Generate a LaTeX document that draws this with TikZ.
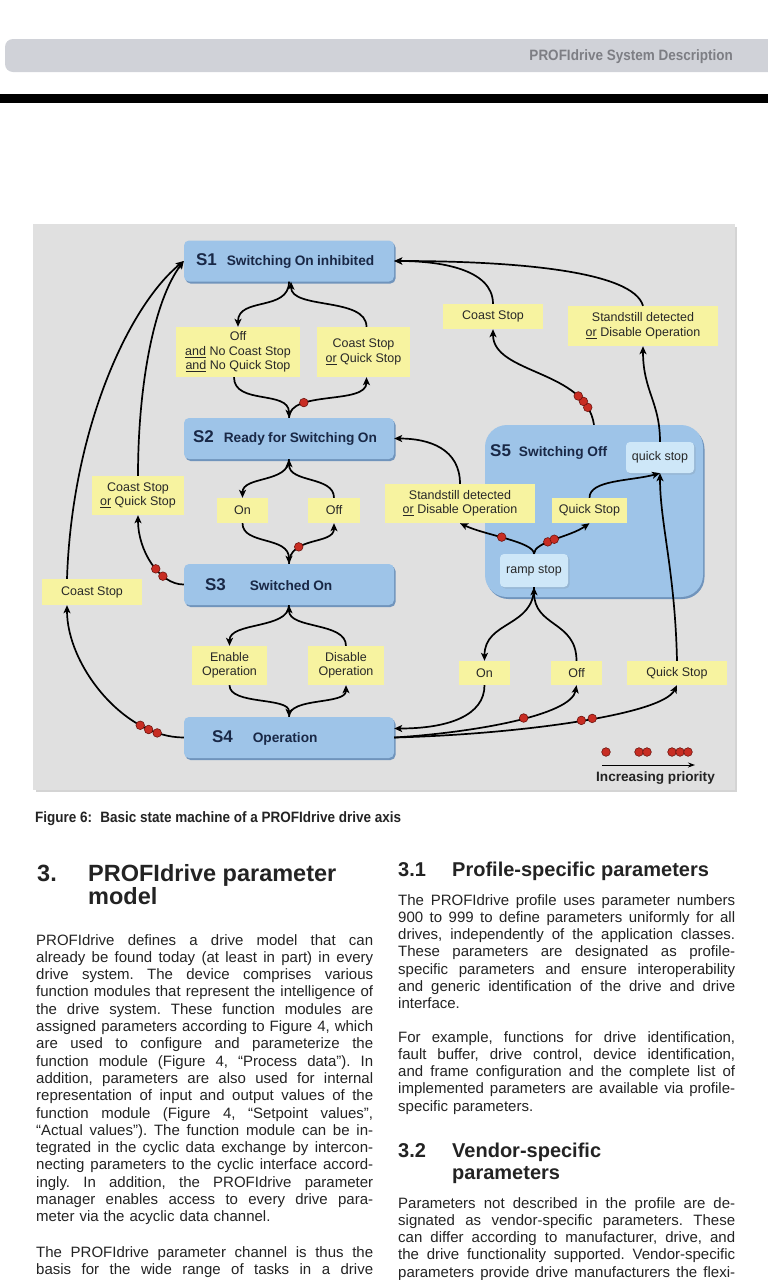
\documentclass[tikz,border=0pt]{standalone}
\usepackage{fontspec}
\setmainfont{Liberation Sans}
\usetikzlibrary{arrows.meta,shadows}
\definecolor{stateblue}{RGB}{158,196,232}
\definecolor{shadowblue}{RGB}{112,148,188}
\definecolor{subblue}{RGB}{206,231,248}
\definecolor{subshadow}{RGB}{150,182,212}
\definecolor{labyellow}{RGB}{247,243,160}
\definecolor{panelgrey}{RGB}{224,224,224}
\definecolor{panelshadow}{RGB}{212,212,212}
\definecolor{hdrgrey}{RGB}{208,210,216}
\definecolor{hdrtext}{RGB}{125,126,132}
\definecolor{dotred}{RGB}{200,45,35}
\definecolor{dotedge}{RGB}{110,20,15}
\definecolor{statetext}{RGB}{25,40,70}
\definecolor{labtext}{RGB}{40,40,40}
\definecolor{bodytext}{RGB}{35,35,35}
\newcommand\jl[1]{\makebox[337pt][s]{\frenchspacing\spaceskip=0.278em plus 1em minus 0.03em\relax #1}\\}
\newcommand\jlast[1]{\makebox[337pt][s]{\frenchspacing\spaceskip=0.278em plus 1em minus 0.03em\relax #1}}
\begin{document}
\begin{tikzpicture}[x=1pt,y=-1pt,
  state/.style={fill=stateblue, rounded corners=5pt, minimum width=210pt, minimum height=41pt,
    inner sep=0pt, text width=210pt, align=left, text=statetext,
    drop shadow={shadow xshift=1.5pt, shadow yshift=-2pt, fill=shadowblue, opacity=1}},
  substate/.style={fill=subblue, rounded corners=4pt, inner sep=0pt, text=labtext,
    font=\fontsize{12.5}{14.5}\selectfont,
    drop shadow={shadow xshift=1.5pt, shadow yshift=-1.5pt, fill=subshadow, opacity=1}},
  lab/.style={fill=labyellow, inner sep=0pt, align=center, text=labtext,
    font=\fontsize{12.5}{14.5}\selectfont},
  conn/.style={line width=1.7pt, -{Stealth[length=8pt,width=7pt,inset=2pt]}},
  dot/.style={circle, fill=dotred, draw=dotedge, line width=0.6pt, inner sep=0pt, minimum size=8.6pt},
  body/.style={font=\fontsize{15}{17.3}\selectfont\frenchspacing, text width=337pt, inner sep=0pt, align=left, text=bodytext, anchor=base west},
  head/.style={inner sep=0pt, anchor=base west, text=bodytext}
]
\useasboundingbox (0,0) rectangle (768,1280);
\fill[white] (0,0) rectangle (768,1280);

% header
\fill[hdrgrey, rounded corners=8pt] (5,39) rectangle (800,72);
\node[anchor=base east, inner sep=0pt, text=hdrtext] (hdr) at (733,60)
  {\scalebox{0.9}[1]{\fontsize{15}{18}\selectfont\bfseries PROFIdrive System Description}};
\fill[black] (0,94) rectangle (768,103);

% panel
\fill[panelshadow] (36,227) rectangle (737,792);
\fill[panelgrey] (33,224) rectangle (735,790);

% S5 composite state
\node[fill=stateblue, rounded corners=22pt, minimum width=218pt, minimum height=172pt, inner sep=0pt,
  drop shadow={shadow xshift=1.5pt, shadow yshift=-2pt, fill=shadowblue, opacity=1}] (s5) at (594,511) {};
\node[anchor=west, inner sep=0pt, text=statetext] (s5t) at (490,452)
  {\fontsize{17}{20}\selectfont\bfseries S5\hspace{8pt}{\fontsize{13.7}{16}\selectfont Switching Off}};
\node[substate, minimum width=68pt, minimum height=31pt] (qstop) at (660,457.5) {quick stop};
\node[substate, minimum width=68pt, minimum height=33pt] (rstop) at (534,570.5) {ramp stop};

% states
\node[state] (s1) at (289,261) {\hspace*{12pt}{\fontsize{17}{20}\selectfont\bfseries S1}\hspace{10pt}{\fontsize{13.7}{16}\selectfont\bfseries Switching On inhibited}};
\node[state] (s2) at (289,438.5) {\hspace*{9pt}{\fontsize{17}{20}\selectfont\bfseries S2}\hspace{10pt}{\fontsize{13.7}{16}\selectfont\bfseries Ready for Switching On}};
\node[state] (s3) at (289,584.5) {\hspace*{21pt}{\fontsize{17}{20}\selectfont\bfseries S3}\hspace{24pt}{\fontsize{13.7}{16}\selectfont\bfseries Switched On}};
\node[state] (s4) at (289,737.5) {\hspace*{28pt}{\fontsize{17}{20}\selectfont\bfseries S4}\hspace{20pt}{\fontsize{13.7}{16}\selectfont\bfseries Operation}};

% labels
\node[lab, minimum width=124pt, minimum height=50pt] (loff) at (238,352) {Off\\\underline{and} No Coast Stop\\\underline{and} No Quick Stop};
\node[lab, minimum width=93pt, minimum height=50pt] (lcsqs) at (363.5,352) {Coast Stop\\\underline{or} Quick Stop};
\node[lab, minimum width=100pt, minimum height=25pt] (lcst) at (493,316.5) {Coast Stop};
\node[lab, minimum width=150pt, minimum height=40pt] (lsdt) at (643,326) {Standstill detected\\\underline{or} Disable Operation};
\node[lab, minimum width=92pt, minimum height=39pt] (lcsqsl) at (138,495.5) {Coast Stop\\\underline{or} Quick Stop};
\node[lab, minimum width=51pt, minimum height=25pt] (lon2) at (242.5,510.5) {On};
\node[lab, minimum width=52pt, minimum height=25pt] (loff2) at (334,510.5) {Off};
\node[lab, minimum width=150pt, minimum height=39pt] (lsdm) at (460,503.5) {Standstill detected\\\underline{or} Disable Operation};
\node[lab, minimum width=75pt, minimum height=25pt] (lqsm) at (589.5,510.5) {Quick Stop};
\node[lab, minimum width=100pt, minimum height=26pt] (lcsl) at (92,592) {Coast Stop};
\node[lab, minimum width=75pt, minimum height=39pt] (len) at (229.5,665.5) {Enable\\Operation};
\node[lab, minimum width=76pt, minimum height=39pt] (ldis) at (346,665.5) {Disable\\Operation};
\node[lab, minimum width=51pt, minimum height=24pt] (lon4) at (484.5,673) {On};
\node[lab, minimum width=51pt, minimum height=24pt] (loff4) at (576.5,673) {Off};
\node[lab, minimum width=100pt, minimum height=24pt] (lqs4) at (677,673) {Quick Stop};

% connectors S1 <-> S2
\draw[conn] (s1.south) .. controls +(0,30) and +(0,-30) .. (loff.north);
\draw[conn] ([xshift=3pt]lcsqs.north) .. controls +(0,-30) and +(0,28) .. ([xshift=2pt]s1.south);
\draw[conn] ([xshift=-4pt]loff.south) .. controls +(0,28) and +(0,-28) .. (s2.north);
\draw[conn] (s2.north) .. controls +(0,-28) and +(0,28) .. ([xshift=3pt]lcsqs.south) node[dot, pos=0.28] (d1) {};
% S2 <-> S3
\draw[conn] (s2.south) .. controls +(0,24) and +(0,-22) .. (lon2.north);
\draw[conn] (loff2.north) .. controls +(0,-22) and +(0,24) .. (s2.south);
\draw[conn] (lon2.south) .. controls +(0,22) and +(0,-28) .. (s3.north);
\draw[conn] (s3.north) .. controls +(0,-28) and +(0,22) .. (loff2.south) node[dot, pos=0.3] (d2) {};
% S3 <-> S4
\draw[conn] (s3.south) .. controls +(0,24) and +(0,-24) .. (len.north);
\draw[conn] (ldis.north) .. controls +(0,-24) and +(0,24) .. (s3.south);
\draw[conn] (len.south) .. controls +(0,20) and +(0,-20) .. (s4.north);
\draw[conn] (s4.north) .. controls +(0,-20) and +(0,20) .. (ldis.south);
% left side
\draw[conn] (s3.west) .. controls +(-25,0) and +(0,35) .. (lcsqsl.south)
  node[dot, pos=0.3] (d3) {} node[dot, pos=0.42] (d4) {};
\draw[conn] (lcsqsl.north) .. controls +(0,-90) and +(-30,40) .. (s1.west);
\draw[conn] ([xshift=-25pt]lcsl.north) .. controls +(5,-150) and +(-55,45) .. (s1.west);
\draw[conn] (s4.west) .. controls +(-60,0) and +(0,60) .. ([xshift=-25pt]lcsl.south)
  node[dot, pos=0.15] (d5) {} node[dot, pos=0.2] (d6) {} node[dot, pos=0.25] (d7) {};
% top right
\draw[conn] (s5.north) .. controls +(-8,-55) and +(0,45) .. (lcst.south)
  node[dot, pos=0.12] (d8) {} node[dot, pos=0.17] (d9) {} node[dot, pos=0.22] (d10) {};
\draw[conn] (lcst.north) .. controls +(0,-35) and +(45,0) .. (s1.east);
\draw[conn] (lsdt.north) .. controls +(-10,-35) and +(120,0) .. (s1.east);
\draw[conn] (qstop.north) .. controls +(0,-40) and +(0,45) .. (lsdt.south);
% inside S5
\draw[conn] (rstop.north) .. controls +(0,-12) and +(25,12) .. (lsdm.south) node[dot, pos=0.55] (d11) {};
\draw[conn] (rstop.north) .. controls +(0,-12) and +(-20,14) .. (lqsm.south)
  node[dot, pos=0.4] (d12) {} node[dot, pos=0.5] (d13) {};
\draw[conn] (lqsm.north) .. controls +(0,-18) and +(-30,8) .. (qstop.south);
\draw[conn] (lsdm.north) .. controls +(0,-35) and +(35,0) .. (s2.east);
\draw[conn] (lqs4.north) .. controls +(-2,-90) and +(0,50) .. (qstop.south);
% bottom right
\draw[conn] (rstop.south) .. controls +(0,40) and +(0,-40) .. (lon4.north);
\draw[conn] (loff4.north) .. controls +(0,-40) and +(0,40) .. (rstop.south);
\draw[conn] (lon4.south) .. controls +(0,30) and +(55,0) .. ([yshift=9pt]s4.east);
\draw[conn] (s4.east) .. controls +(80,-5) and +(-5,30) .. (loff4.south) node[dot, pos=0.55] (d14) {};
\draw[conn] (s4.east) .. controls +(120,-3) and +(-15,30) .. (lqs4.south)
  node[dot, pos=0.52] (d15) {} node[dot, pos=0.555] (d16) {};

% legend
\node[dot] (lg1) at (606,752) {};
\node[dot] (lg2a) at (639,752) {};
\node[dot] (lg2b) at (647,752) {};
\node[dot] (lg3a) at (672,752) {};
\node[dot] (lg3b) at (680,752) {};
\node[dot] (lg3c) at (688,752) {};
\coordinate (lga) at (602,765);
\coordinate (lgb) at (695,765);
\draw[line width=1pt, -{Stealth[length=7pt,width=5pt]}] (lga) -- (lgb);
\node[inner sep=0pt, text=bodytext] (lgt) at (655.5,778) {\fontsize{13.6}{16}\selectfont\bfseries Increasing priority};

% caption
\node[anchor=base west, inner sep=0pt, text=bodytext] (cap) at (35,822)
  {\scalebox{0.9}[1]{\fontsize{15}{18}\selectfont\bfseries Figure 6:\hspace{9pt}Basic state machine of a PROFIdrive drive axis}};

% headings
\node[head, font=\fontsize{23.5}{24}\selectfont\bfseries] (h3n) at (37,881) {3.};
\node[head, font=\fontsize{23.5}{24}\selectfont\bfseries] (h3a) at (88,881) {PROFIdrive parameter};
\node[head, font=\fontsize{23.5}{24}\selectfont\bfseries] (h3b) at (88,904) {model};
\node[head, font=\fontsize{20}{22}\selectfont\bfseries] (h31n) at (398,876) {3.1};
\node[head, font=\fontsize{20}{22}\selectfont\bfseries] (h31a) at (452,876) {Profile-specific parameters};
\node[head, font=\fontsize{20}{22}\selectfont\bfseries] (h32n) at (398,1157) {3.2};
\node[head, font=\fontsize{20}{22}\selectfont\bfseries] (h32a) at (452,1157) {Vendor-specific};
\node[head, font=\fontsize{20}{22}\selectfont\bfseries] (h32b) at (452,1179) {parameters};

% body text, left column
\node[body] (lp1) at (36,945) {%
\jl{PROFIdrive defines a drive model that can}%
\jl{already be found today (at least in part) in every}%
\jl{drive system. The device comprises various}%
\jl{function modules that represent the intelligence of}%
\jl{the drive system. These function modules are}%
\jl{assigned parameters according to Figure 4, which}%
\jl{are used to configure and parameterize the}%
\jl{function module (Figure 4, “Process data”). In}%
\jl{addition, parameters are also used for internal}%
\jl{representation of input and output values of the}%
\jl{function module (Figure 4, “Setpoint values”,}%
\jl{“Actual values”). The function module can be in-}%
\jl{tegrated in the cyclic data exchange by intercon-}%
\jl{necting parameters to the cyclic interface accord-}%
\jl{ingly. In addition, the PROFIdrive parameter}%
\jl{manager enables access to every drive para-}%
meter via the acyclic data channel.};
\node[body] (lp2) at (36,1257) {%
\jl{The PROFIdrive parameter channel is thus the}%
\jlast{basis for the wide range of tasks in a drive}};

% body text, right column
\node[body] (rp1) at (398,905) {%
\jl{The PROFIdrive profile uses parameter numbers}%
\jl{900 to 999 to define parameters uniformly for all}%
\jl{drives, independently of the application classes.}%
\jl{These parameters are designated as profile-}%
\jl{specific parameters and ensure interoperability}%
\jl{and generic identification of the drive and drive}%
interface.};
\node[body] (rp2) at (398,1042) {%
\jl{For example, functions for drive identification,}%
\jl{fault buffer, drive control, device identification,}%
\jl{and frame configuration and the complete list of}%
\jl{implemented parameters are available via profile-}%
specific parameters.};
\node[body] (rp3) at (398,1208) {%
\jl{Parameters not described in the profile are de-}%
\jl{signated as vendor-specific parameters. These}%
\jl{can differ according to manufacturer, drive, and}%
\jl{the drive functionality supported. Vendor-specific}%
\jlast{parameters provide drive manufacturers the flexi-}};
\end{tikzpicture}
\end{document}
